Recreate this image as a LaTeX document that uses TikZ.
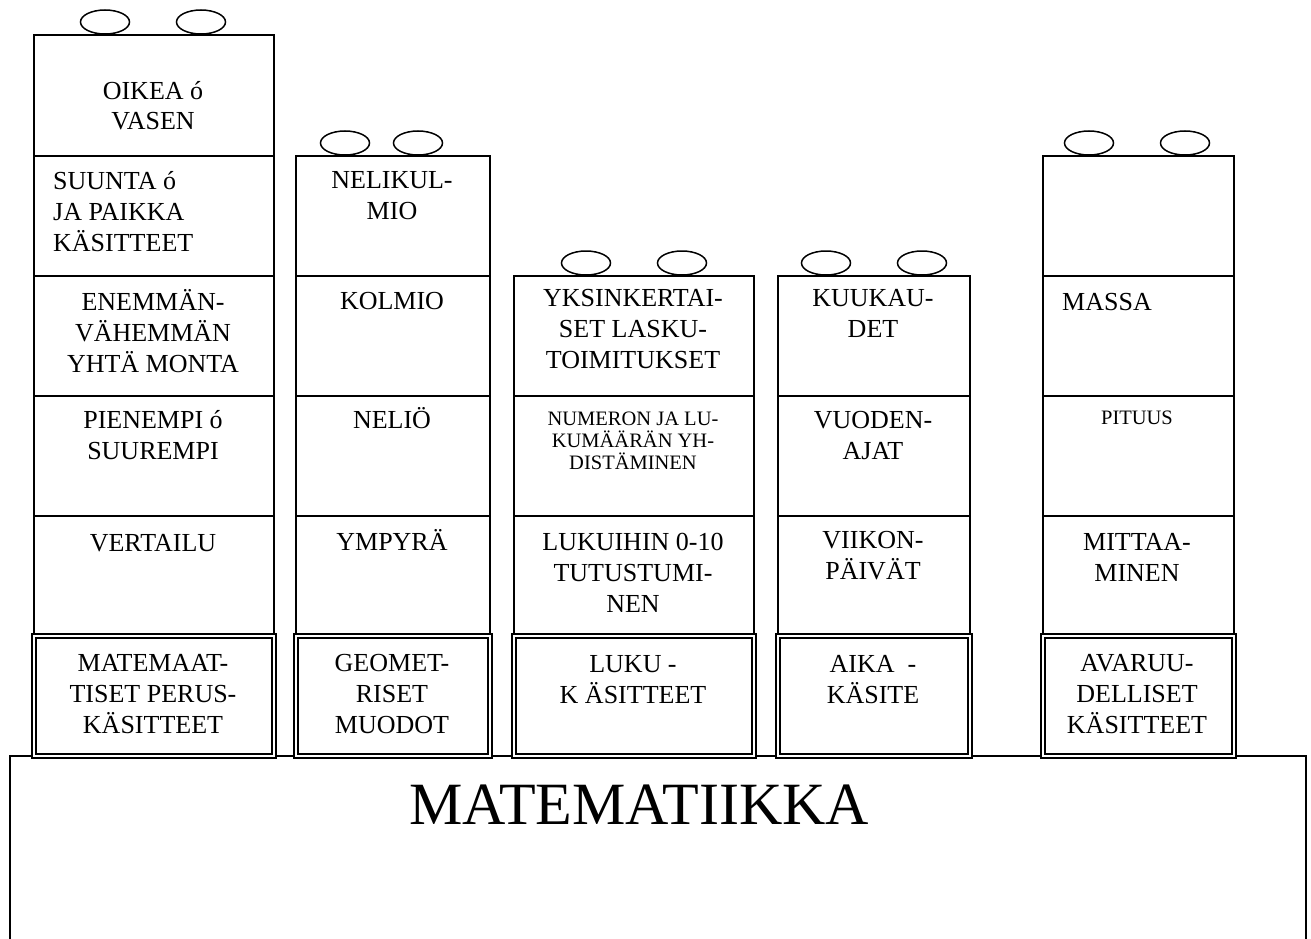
\documentclass[tikz,border=0pt]{standalone}
\usepackage{fontspec}
\setmainfont{Liberation Serif}
\tikzstyle{cell}=[draw,line width=1.8pt,inner sep=0pt,minimum height=120pt,anchor=north west]
\tikzstyle{basecell}=[cell,double,double distance=2.5pt,line width=1.6pt]
\tikzstyle{lbl}=[align=center,anchor=base,inner sep=0pt,font={\fontsize{26}{31}\selectfont}]
\tikzstyle{lbll}=[lbl,align=left,anchor=base west]
\tikzstyle{small}=[lbl,font={\fontsize{20.5}{22}\selectfont}]
\tikzstyle{knob}=[draw,line width=1.5pt]

\begin{document}
\begin{tikzpicture}[x=1pt,y=-1pt]
    \useasboundingbox (0,0) rectangle (1311,939);
    % pohja
    \node[draw,line width=1.5pt,anchor=north west,minimum width=1296pt,minimum height=200pt] (mat) at (9,755) {};
    \node[lbl,font={\fontsize{60}{70}\selectfont}] (tmat) at (639,824) {MATEMATIIKKA};

    % nupit
    \foreach \x/\y in {105/22,201/22,345/143,418/143,586/263,682/263,826/263,922/263,1089/143,1185/143}
    \draw[knob] (\x,\y) ellipse [x radius=24.5, y radius=12];

    % sarake 1 (tekstin paikka = viimeisen rivin pohjaviiva)
    \node[cell,minimum width=240pt,minimum height=121pt] (c1a) at (33,34) {};
    \node[cell,minimum width=240pt] (c1b) at (33,155) {};
    \node[cell,minimum width=240pt] (c1c) at (33,275) {};
    \node[cell,minimum width=240pt] (c1d) at (33,395) {};
    \node[cell,minimum width=240pt] (c1e) at (33,515) {};
    \node[basecell,minimum width=240pt] (c1f) at (33,635) {};
    \node[lbl] (t1a) at (153,130) {OIKEA ó\\VASEN};
    \node[lbll] (t1b) at (53,251) {SUUNTA ó\\JA PAIKKA\\KÄSITTEET};
    \node[lbl] (t1c) at (153,372) {ENEMMÄN-\\VÄHEMMÄN\\YHTÄ MONTA};
    \node[lbl] (t1d) at (153,459) {PIENEMPI ó\\SUUREMPI};
    \node[lbl] (t1e) at (153,551) {VERTAILU};
    \node[lbl] (t1f) at (153,733) {MATEMAAT-\\TISET PERUS-\\KÄSITTEET};

    % sarake 2
    \node[cell,minimum width=194pt] (c2a) at (295,155) {};
    \node[cell,minimum width=194pt] (c2b) at (295,275) {};
    \node[cell,minimum width=194pt] (c2c) at (295,395) {};
    \node[cell,minimum width=194pt] (c2d) at (295,515) {};
    \node[basecell,minimum width=194pt] (c2e) at (295,635) {};
    \node[lbl] (t2a) at (392,219) {NELIKUL-\\MIO};
    \node[lbl] (t2b) at (392,309) {KOLMIO};
    \node[lbl] (t2c) at (392,428) {NELIÖ};
    \node[lbl] (t2d) at (392,550) {YMPYRÄ};
    \node[lbl] (t2e) at (392,733) {GEOMET-\\RISET\\MUODOT};

    % sarake 3
    \node[cell,minimum width=240pt] (c3a) at (513,275) {};
    \node[cell,minimum width=240pt] (c3b) at (513,395) {};
    \node[cell,minimum width=240pt] (c3c) at (513,515) {};
    \node[basecell,minimum width=240pt] (c3d) at (513,635) {};
    \node[lbl] (t3a) at (633,368) {YKSINKERTAI-\\SET LASKU-\\TOIMITUKSET};
    \node[small] (t3b) at (633,469) {NUMERON JA LU-\\KUMÄÄRÄN YH-\\DISTÄMINEN};
    \node[lbl] (t3c) at (633,612) {LUKUIHIN 0-10\\TUTUSTUMI-\\NEN};
    \node[lbl] (t3d) at (633,703) {LUKU -\\K ÄSITTEET};

    % sarake 4
    \node[cell,minimum width=192pt] (c4a) at (777,275) {};
    \node[cell,minimum width=192pt] (c4b) at (777,395) {};
    \node[cell,minimum width=192pt] (c4c) at (777,515) {};
    \node[basecell,minimum width=192pt] (c4d) at (777,635) {};
    \node[lbl] (t4a) at (873,337) {KUUKAU-\\DET};
    \node[lbl] (t4b) at (873,459) {VUODEN-\\AJAT};
    \node[lbl] (t4c) at (873,579) {VIIKON-\\PÄIVÄT};
    \node[lbl] (t4d) at (873,703) {AIKA \ -\\KÄSITE};

    % sarake 5
    \node[cell,minimum width=191pt] (c5a) at (1042,155) {};
    \node[cell,minimum width=191pt] (c5b) at (1042,275) {};
    \node[cell,minimum width=191pt] (c5c) at (1042,395) {};
    \node[cell,minimum width=191pt] (c5d) at (1042,515) {};
    \node[basecell,minimum width=191pt] (c5e) at (1042,635) {};
    \node[lbll] (t5b) at (1062,310) {MASSA};
    \node[small] (t5c) at (1137,424) {PITUUS};
    \node[lbl] (t5d) at (1137,581) {MITTAA-\\MINEN};
    \node[lbl] (t5e) at (1137,733) {AVARUU-\\DELLISET\\KÄSITTEET};
\end{tikzpicture}
\end{document}
